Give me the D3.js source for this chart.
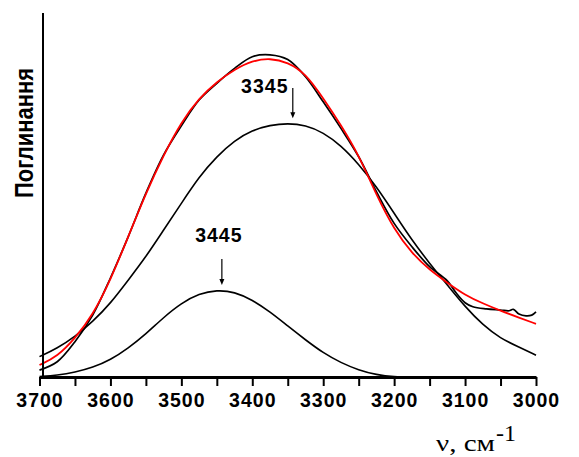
<!DOCTYPE html>
<html>
<head>
<meta charset="utf-8">
<script src="https://cdn.jsdelivr.net/npm/d3@7"></script>
<style>
  html, body { margin: 0; padding: 0; background: #fff; }
  svg { display: block; }
</style>
</head>
<body>
<div id="chart"></div>
<script>
const nu = [3700, 3675, 3650, 3625, 3600, 3575, 3550, 3525, 3500, 3475, 3450, 3425, 3400, 3375, 3350,
            3325, 3300, 3275, 3250, 3225, 3200, 3175, 3150, 3125, 3100, 3075, 3050, 3025, 3000];

// red fitted envelope
const fitValues = [0.033, 0.056, 0.106, 0.170, 0.266, 0.385, 0.505, 0.610, 0.701, 0.766, 0.811, 0.845, 0.869, 0.876, 0.865,
                   0.834, 0.766, 0.692, 0.610, 0.500, 0.405, 0.340, 0.294, 0.259, 0.225, 0.202, 0.182, 0.164, 0.146];

// component band at 3345
const band3345 = [0.056, 0.079, 0.111, 0.152, 0.202, 0.266, 0.330, 0.404, 0.477, 0.550, 0.606, 0.650, 0.678, 0.692, 0.697,
                  0.692, 0.672, 0.636, 0.585, 0.523, 0.450, 0.376, 0.312, 0.253, 0.193, 0.143, 0.106, 0.083, 0.060];

// component band at 3445
const band3445 = [0.001, 0.005, 0.013, 0.026, 0.047, 0.079, 0.118, 0.164, 0.203, 0.229, 0.239, 0.234, 0.212, 0.179, 0.140,
                  0.102, 0.066, 0.039, 0.019, 0.006, 0.000, 0.000, 0.000, 0.000, 0.000, 0.000, 0.000, 0.000, 0.000];

// measured spectrum (black), with extra points in the noisy tail
const measuredNu = [3700, 3675, 3650, 3625, 3600, 3575, 3550, 3525, 3500, 3475, 3450, 3425, 3400, 3375, 3350,
                    3325, 3300, 3275, 3250, 3225, 3200, 3175, 3150, 3125, 3113, 3100, 3089, 3070, 3050, 3038,
                    3032, 3024, 3014, 3006, 3000];
const measuredValues = [0.019, 0.042, 0.097, 0.170, 0.272, 0.385, 0.505, 0.610, 0.690, 0.761, 0.807, 0.848, 0.880, 0.885, 0.872,
                        0.825, 0.756, 0.683, 0.605, 0.509, 0.422, 0.358, 0.303, 0.264, 0.232, 0.204, 0.193, 0.187, 0.184, 0.182,
                        0.186, 0.173, 0.168, 0.170, 0.179];

const xTicks = [3700, 3650, 3600, 3550, 3500, 3450, 3400, 3350, 3300, 3250, 3200, 3150, 3100, 3050, 3000];

const peakLabels = [
  { nu: 3345, text: "3345" },
  { nu: 3445, text: "3445" }
];

const width = 579, height = 457;

const svg = d3.select("#chart").append("svg")
    .attr("width", width)
    .attr("height", height);

const x = d3.scaleLinear().domain([3700, 3000]).range([39.5, 536]);
const y = d3.scaleLinear().domain([0, 1]).range([377, 13]);

const smoothLine = d3.line()
    .x(d => x(d[0]))
    .y(d => y(d[1]))
    .curve(d3.curveBasis);

const rawLine = d3.line()
    .x(d => x(d[0]))
    .y(d => y(d[1]))
    .curve(d3.curveCatmullRom.alpha(0.5));

// component bands
[band3445, band3345].forEach(vals => {
  svg.append("path")
      .datum(nu.map((n, i) => [n, vals[i]]))
      .attr("d", smoothLine)
      .attr("fill", "none")
      .attr("stroke", "#000")
      .attr("stroke-width", 1.6);
});

// measured spectrum
svg.append("path")
    .datum(measuredNu.map((n, i) => [n, measuredValues[i]]))
    .attr("d", rawLine)
    .attr("fill", "none")
    .attr("stroke", "#000")
    .attr("stroke-width", 1.7);

// fit
svg.append("path")
    .datum(nu.map((n, i) => [n, fitValues[i]]))
    .attr("d", smoothLine)
    .attr("fill", "none")
    .attr("stroke", "#f00")
    .attr("stroke-width", 1.8);

// x axis
const xAxis = d3.axisBottom(x)
    .tickValues(xTicks)
    .tickFormat(d => d % 100 === 0 ? d : "")
    .tickSizeInner(9)
    .tickSizeOuter(0)
    .tickPadding(7);

const gx = svg.append("g")
    .attr("transform", "translate(0," + y(0) + ")")
    .call(xAxis);
gx.select(".domain").attr("stroke", "#000").attr("stroke-width", 3);
gx.selectAll(".tick line").attr("stroke", "#000").attr("stroke-width", 2);
gx.selectAll(".tick text")
    .attr("fill", "#000")
    .style("font-family", "'Liberation Sans', Arial, sans-serif")
    .style("font-weight", "bold")
    .style("font-size", "19.5px")
    .style("letter-spacing", "1px");

// y axis (plain line, no ticks)
svg.append("line")
    .attr("x1", 43).attr("x2", 43)
    .attr("y1", y(1)).attr("y2", y(0))
    .attr("stroke", "#000")
    .attr("stroke-width", 2);

// axis titles
svg.append("text")
    .attr("transform", "translate(33,133) rotate(-90)")
    .attr("text-anchor", "middle")
    .attr("textLength", 130)
    .attr("lengthAdjust", "spacingAndGlyphs")
    .style("font-family", "'Liberation Sans', Arial, sans-serif")
    .style("font-weight", "bold")
    .style("font-size", "25px")
    .text("Поглинання");

svg.append("text")
    .attr("x", 436)
    .attr("y", 451)
    .attr("textLength", 59)
    .attr("lengthAdjust", "spacingAndGlyphs")
    .style("font-family", "'Liberation Serif', 'Times New Roman', serif")
    .style("font-size", "24px")
    .text("ν, см");

svg.append("text")
    .attr("x", 496)
    .attr("y", 441)
    .style("font-family", "'Liberation Serif', 'Times New Roman', serif")
    .style("font-size", "24px")
    .text("-1");

// peak annotations
const labelPos = { "3345": { dx: -28, top: 88, textY: 93 }, "3445": { dx: -3, top: 259, textY: 242 } };

peakLabels.forEach(p => {
  const band = p.nu === 3345 ? band3345 : band3445;
  const px = x(p.nu) + 1.5;
  const tipY = y(d3.max(band)) - 5;
  const pos = labelPos[p.text];

  svg.append("line")
      .attr("x1", px).attr("x2", px)
      .attr("y1", pos.top).attr("y2", tipY - 5)
      .attr("stroke", "#000")
      .attr("stroke-width", 1.2);
  svg.append("path")
      .attr("d", `M${px - 2.5},${tipY - 6}L${px + 2.5},${tipY - 6}L${px},${tipY}Z`)
      .attr("fill", "#000");

  svg.append("text")
      .attr("x", px + pos.dx)
      .attr("y", pos.textY)
      .attr("text-anchor", "middle")
      .style("font-family", "'Liberation Sans', Arial, sans-serif")
      .style("font-weight", "bold")
      .style("font-size", "19.5px")
      .style("letter-spacing", "1px")
      .text(p.text);
});
</script>
</body>
</html>
